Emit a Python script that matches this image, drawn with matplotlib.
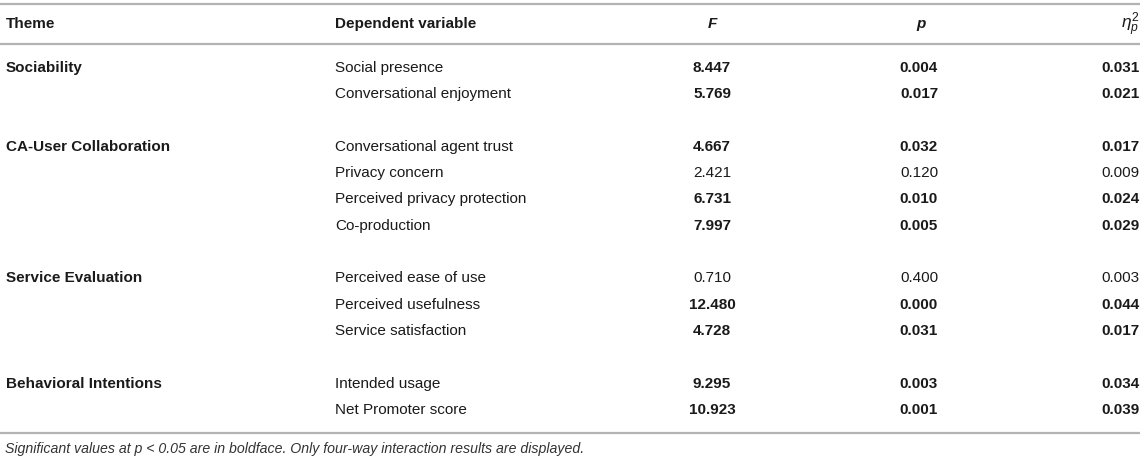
import matplotlib.pyplot as plt

plt.rcParams['font.family'] = ['Liberation Sans', 'DejaVu Sans']
plt.rcParams['mathtext.fontset'] = 'custom'
plt.rcParams['mathtext.it'] = 'Liberation Sans:italic'
plt.rcParams['mathtext.rm'] = 'Liberation Sans'

# table content
headers = ["Theme", "Dependent variable", "F", "p", r"$\eta_p^2$"]
themes = ["Sociability", "CA-User Collaboration", "Service Evaluation", "Behavioral Intentions"]
variables = [
    ["Social presence", "Conversational enjoyment"],
    ["Conversational agent trust", "Privacy concern", "Perceived privacy protection", "Co-production"],
    ["Perceived ease of use", "Perceived usefulness", "Service satisfaction"],
    ["Intended usage", "Net Promoter score"],
]
f_vals = [["8.447", "5.769"],
          ["4.667", "2.421", "6.731", "7.997"],
          ["0.710", "12.480", "4.728"],
          ["9.295", "10.923"]]
p_vals = [["0.004", "0.017"],
          ["0.032", "0.120", "0.010", "0.005"],
          ["0.400", "0.000", "0.031"],
          ["0.003", "0.001"]]
eta_vals = [["0.031", "0.021"],
            ["0.017", "0.009", "0.024", "0.029"],
            ["0.003", "0.044", "0.017"],
            ["0.034", "0.039"]]
footnote = "Significant values at p < 0.05 are in boldface. Only four-way interaction results are displayed."

W, H = 1145, 461
fig = plt.figure(figsize=(W / 100, H / 100), dpi=100)
ax = fig.add_axes([0, 0, 1, 1])
ax.set_xlim(0, W)
ax.set_ylim(H, 0)
ax.axis('off')

fs = 11
txt = '#1a1a1a'
line_c = '#b3b3b3'

x_theme, x_var, x_f, x_p, x_eta = 6, 335, 712, 919, 1140

# rules
for y in [4.5, 44.5, 432.5]:
    ax.plot([0, 1140], [y, y], color=line_c, lw=1.6, solid_capstyle='butt')

# header
hy = 24
ax.text(x_theme, hy, headers[0], fontsize=fs, fontweight='bold', color=txt, va='center')
ax.text(x_var, hy, headers[1], fontsize=fs, fontweight='bold', color=txt, va='center')
ax.text(x_f, hy, headers[2], fontsize=fs, fontweight='bold', fontstyle='italic', color=txt, va='center', ha='center')
ax.text(x_p + 2, hy, headers[3], fontsize=fs, fontweight='bold', fontstyle='italic', color=txt, va='center', ha='center')
ax.text(x_eta, hy + 1, headers[4], fontsize=12.5, color=txt, va='center', ha='right')

y0, dy = 67.7, 26.33
row = 0
for g, theme in enumerate(themes):
    y = y0 + row * dy
    ax.text(x_theme, y, theme, fontsize=fs, fontweight='bold', color=txt, va='center')
    for i, var in enumerate(variables[g]):
        y = y0 + row * dy
        sig = float(p_vals[g][i]) < 0.05
        w = 'bold' if sig else 'normal'
        ax.text(x_var, y, var, fontsize=fs, color=txt, va='center')
        ax.text(x_f, y, f_vals[g][i], fontsize=fs, fontweight=w, color=txt, va='center', ha='center')
        ax.text(x_p, y, p_vals[g][i], fontsize=fs, fontweight=w, color=txt, va='center', ha='center')
        ax.text(x_eta, y, eta_vals[g][i], fontsize=fs, fontweight=w, color=txt, va='center', ha='right')
        row += 1
    row += 1

ax.text(x_theme - 1, 449, footnote, fontsize=10.2, fontstyle='italic', color='#333333', va='center')

fig.savefig('out.png', dpi=100)
